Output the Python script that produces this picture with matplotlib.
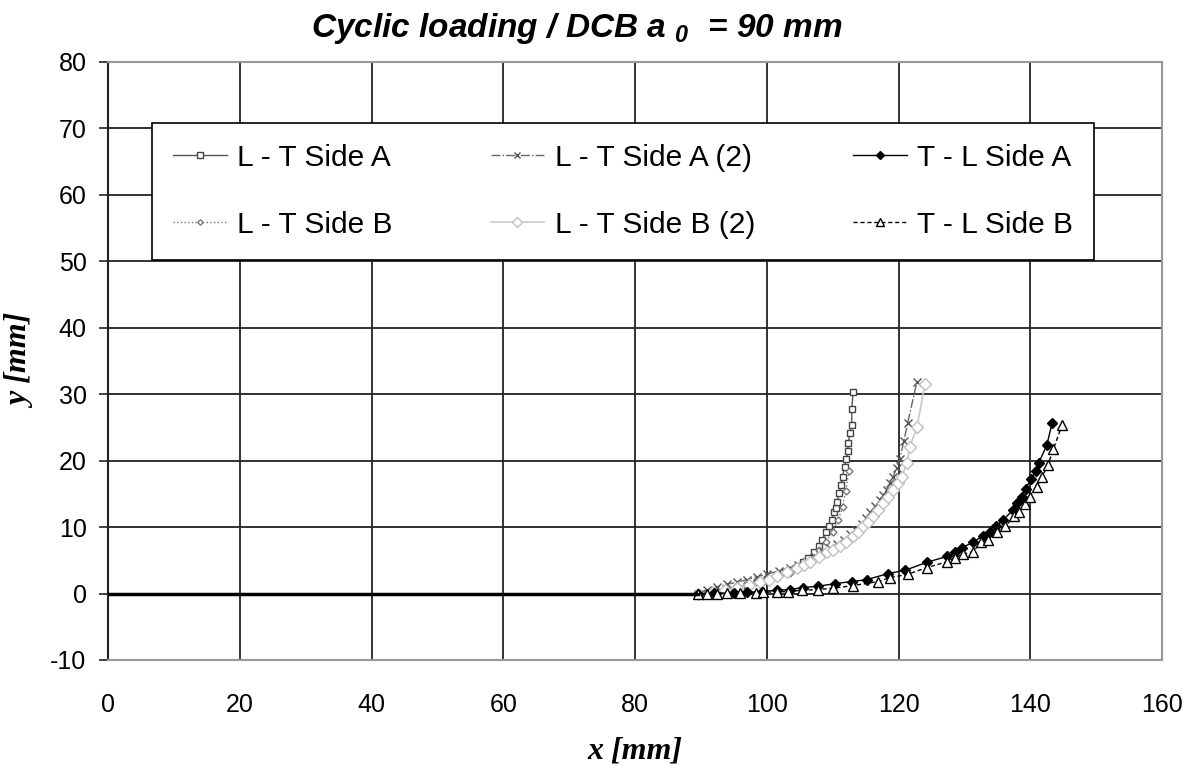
import numpy as np
import matplotlib.pyplot as plt

plt.rcParams['axes.unicode_minus'] = False
plt.rcParams['mathtext.fontset'] = 'custom'
plt.rcParams['mathtext.rm'] = 'Liberation Sans:bold:italic'
plt.rcParams['mathtext.it'] = 'Liberation Sans:bold:italic'

# crack tip positions
crack_x = [0, 89.5]
crack_y = [0, 0]

lta_x = [89.5, 91, 92.5, 94, 95.5, 97, 98.5, 100, 101.5, 102.7, 103.6, 104.8, 105.5, 106.3, 107.1, 107.9, 108.4, 109, 109.5,
         109.9, 110.2, 110.5, 110.7, 111, 111.3, 111.5, 111.8, 112.1, 112.3, 112.4, 112.6, 112.9, 112.9, 113.1]
lta_y = [0, 0.15, 0.3, 0.6, 0.9, 1.3, 1.7, 2.2, 2.7, 3.2, 3.6, 4.1, 4.7, 5.4, 6.2, 7.1, 8.1, 9.2, 10.1,
         11.1, 12.2, 12.9, 13.8, 15.2, 16.4, 17.6, 19.0, 20.2, 21.4, 22.7, 24.2, 25.4, 27.7, 30.3]

ltb_x = [89.5, 91.5, 93.5, 95.5, 97.5, 99.5, 101.5, 103.5, 105, 106.5, 108, 109, 110, 110.8, 111.5, 112, 112.5]
ltb_y = [0, 0.2, 0.5, 0.8, 1.2, 1.7, 2.3, 3.1, 4.0, 5.1, 6.5, 7.8, 9.3, 11.0, 13.0, 15.5, 18.5]

lta2_x = [89.5, 91, 92.5, 94, 95.5, 97, 98.5, 100, 101.8, 103.5, 104.8, 106.1, 107.3, 108.5, 109.6, 110.7, 111.7, 112.7, 113.6,
          114.4, 115.1, 115.7, 116.5, 117.2, 117.7, 118.2, 118.7, 119.2, 119.7, 120.2, 120.8, 121.4, 122.8]
lta2_y = [0, 0.6, 1.0, 1.4, 1.7, 2.1, 2.5, 2.9, 3.4, 3.9, 4.3, 4.8, 5.5, 6.2, 6.8, 7.4, 8.1, 8.9, 9.6,
          10.4, 11.3, 12.2, 13.1, 14.1, 14.8, 15.6, 16.6, 17.6, 18.9, 20.2, 22.9, 25.7, 31.9]

ltb2_x = [89.5, 91.8, 93.7, 95.5, 97.3, 99, 100.3, 101.6, 103.1, 104.6, 105.6, 106.6, 107.9, 109.1, 110.1, 111.1, 112.1, 113.1,
          113.9, 114.6, 115.4, 116.1, 116.9, 117.6, 118.4, 119.2, 119.9, 120.5, 121.3, 121.7, 122.8, 124.0]
ltb2_y = [0, 0.3, 0.6, 0.9, 1.3, 1.7, 2.1, 2.6, 3.2, 3.9, 4.3, 4.8, 5.5, 6.2, 6.6, 7.1, 7.8, 8.6,
          9.3, 10.1, 10.8, 11.6, 12.6, 13.7, 14.6, 15.6, 16.6, 17.6, 19.7, 22.1, 25.0, 31.5]

tla_x = [89.5, 92, 95, 97, 99.3, 101.6, 103.5, 105.5, 107.8, 110.4, 112.9, 115.2, 118.4, 121, 124.3, 127.4, 128.6, 129.6, 131.3,
         132.8, 133.9, 134.8, 135.9, 137.4, 138, 138.7, 139.3, 140.1, 140.9, 141.3, 142.5, 143.3]
tla_y = [0, 0.05, 0.1, 0.2, 0.3, 0.5, 0.6, 0.9, 1.1, 1.5, 1.8, 2.1, 3.0, 3.5, 4.7, 5.6, 6.2, 6.9, 7.7,
         8.7, 9.3, 10.1, 11.1, 12.6, 13.7, 14.6, 15.8, 17.2, 18.4, 19.7, 22.3, 25.6]

tlb_x = [89.5, 91, 92.5, 94, 96, 98.3, 99.4, 101.5, 103.2, 105.4, 107.8, 110.1, 113.1, 116.9, 118.7, 121.4, 124.3, 127.4, 128.6,
         129.8, 131.3, 132.5, 133.6, 134.9, 136.2, 137.5, 138.3, 139.2, 139.9, 141, 141.8, 142.7, 143.5, 144.8]
tlb_y = [0, 0, 0, 0.05, 0.1, 0.1, 0.2, 0.25, 0.3, 0.5, 0.6, 0.8, 1.2, 1.8, 2.4, 2.9, 3.9, 4.8, 5.4,
         5.9, 6.3, 7.7, 8.1, 9.2, 10.1, 11.6, 12.2, 13.4, 14.6, 16.1, 17.6, 19.4, 21.7, 25.3]

fig = plt.figure(figsize=(11.95, 7.71), dpi=100)
ax = fig.add_axes([0.0904, 0.144, 0.882, 0.7756])

ax.plot(crack_x, crack_y, color='black', lw=2.5, zorder=3)

h1, = ax.plot(lta_x, lta_y, color='#555555', lw=1, ls='-', marker='s', ms=5, mfc='white', mec='#444444', label='L - T Side A')
h2, = ax.plot(ltb_x, ltb_y, color='#777777', lw=1, ls=':', marker='D', ms=3.5, mfc='white', mec='#777777', label='L - T Side B')
h3, = ax.plot(lta2_x, lta2_y, color='#666666', lw=1, ls='-.', marker='x', ms=6, mec='#555555', label='L - T Side A (2)')
h4, = ax.plot(ltb2_x, ltb2_y, color='#c8c8c8', lw=1.2, ls='-', marker='D', ms=6, mfc='white', mec='#c0c0c0', label='L - T Side B (2)')
h5, = ax.plot(tla_x, tla_y, color='black', lw=1, ls='-', marker='D', ms=5, mfc='black', mec='black', label='T - L Side A')
h6, = ax.plot(tlb_x, tlb_y, color='black', lw=1, ls=(0, (3, 2)), marker='^', ms=6.5, mfc='white', mec='black', label='T - L Side B')

ax.set_xlim(0, 160)
ax.set_ylim(-10, 80)
ax.set_xticks(np.arange(0, 161, 20))
ax.set_yticks(np.arange(-10, 81, 10))
ax.grid(True, color='#222222', lw=1.3)
ax.set_axisbelow(True)
for s in ['top', 'right', 'bottom']:
    ax.spines[s].set_color('#999999')
    ax.spines[s].set_linewidth(1.5)
ax.spines['left'].set_color('#222222')
ax.spines['left'].set_linewidth(1.5)
ax.tick_params(axis='y', labelsize=18, length=6.5, width=1.2, color='#222222', pad=9)
ax.tick_params(axis='x', labelsize=18, length=0, pad=24)
for lab in ax.get_xticklabels() + ax.get_yticklabels():
    lab.set_fontfamily('Liberation Sans')

ax.set_xlabel('x [mm]', fontsize=23, fontweight='bold', fontstyle='italic', family='Liberation Serif', labelpad=14)
ax.set_ylabel('y [mm]', fontsize=23, fontweight='bold', fontstyle='italic', family='Liberation Serif', labelpad=10)
fig.text(0.483, 1 - 37 / 771, r'Cyclic loading / DCB a $_0$  = 90 mm', fontsize=24, fontweight='bold',
         fontstyle='italic', family='Liberation Sans', ha='center', va='baseline')

leg = ax.legend(handles=[h1, h2, h3, h4, h5, h6], ncol=3, loc='upper left',
                bbox_to_anchor=(0.0417, 0.672, 0.894, 0.226), mode='expand',
                prop={'family': 'Liberation Sans', 'size': 21.5}, frameon=True, fancybox=False,
                edgecolor='black', framealpha=1, handlelength=1.8, handletextpad=0.35, labelspacing=1.3,
                borderaxespad=0, borderpad=0.7, markerscale=0.8)
leg.get_frame().set_linewidth(1.2)

fig.savefig('out.png', dpi=100)
